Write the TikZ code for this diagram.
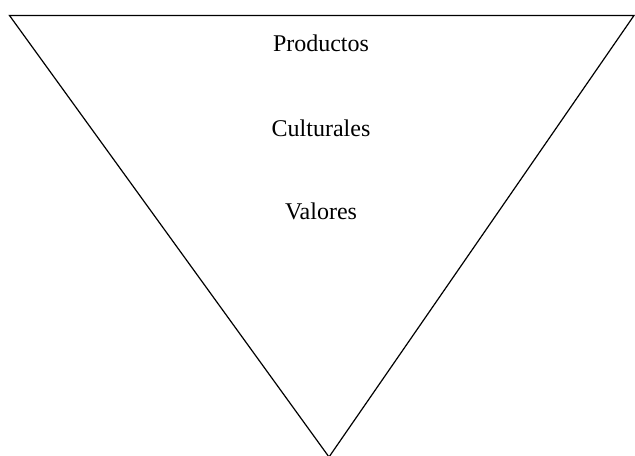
\documentclass[tikz,border=0pt]{standalone}
\usepackage{fontspec}
\setmainfont{Liberation Serif}
\usepackage{tikz}

\tikzset{label text/.style={inner sep=0.75pt, font=\fontsize{18}{22}\selectfont}}

\begin{document}
\begin{tikzpicture}[x=0.75pt,y=0.75pt,yscale=-1,xscale=1]
        %set diagram left start at 0, and has height of 456
        \useasboundingbox (0,0) rectangle (635,456);
        
        %Shape: Triangle [id:triangle_funnel] 
        \coordinate (topleft) at (9.5,15.5);
        \coordinate (topright) at (634,15.5);
        \coordinate (apex) at (329,457);
        \draw [line width=0.9]  (topleft) -- (topright) -- (apex) -- cycle ;
        
        % Text Node
        \draw (321,43) node [label text] (productos)  {Productos};
        % Text Node
        \draw (321,128) node [label text] (culturales)  {Culturales};
        % Text Node
        \draw (321,211) node [label text] (valores)  {Valores};
        
        
\end{tikzpicture}
\end{document}
